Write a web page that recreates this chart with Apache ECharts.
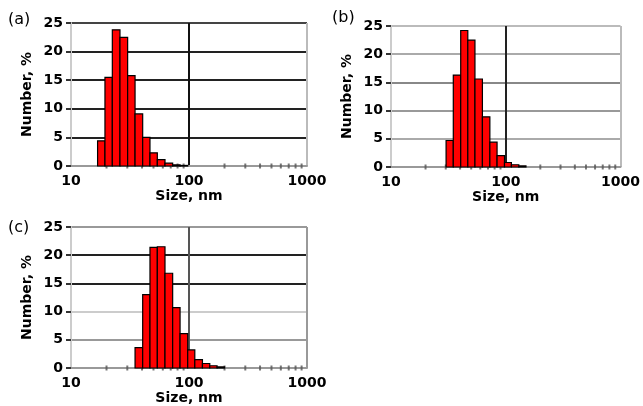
<!DOCTYPE html>
<html>
<head>
<meta charset="utf-8">
<script src="https://cdn.jsdelivr.net/npm/echarts@6/dist/echarts.min.js"></script>
<style>html,body{margin:0;padding:0;background:#fff}#c{width:643px;height:406px}</style>
</head>
<body>
<div id="c"></div>
<script>
// Shared log-spaced bin edges (nm)
const binEdges = [16.8, 19.4, 22.4, 26.0, 30.2, 34.9, 40.5, 46.7, 53.9, 62.6, 72.7, 84.0, 97.5, 112, 130, 150, 173, 200];
// Panel values (Number, %) and index of first bin
const firstBinA = 0;
const valuesA = [4.4, 15.5, 23.8, 22.5, 15.8, 9.1, 5.0, 2.3, 1.1, 0.5, 0.2, 0.1];
const firstBinB = 4;
const valuesB = [4.7, 16.3, 24.2, 22.5, 15.6, 8.9, 4.4, 2.0, 0.8, 0.4, 0.2];
const firstBinC = 5;
const valuesC = [3.6, 13.0, 21.4, 21.5, 16.8, 10.7, 6.1, 3.2, 1.5, 0.8, 0.4, 0.2];
const panelLabels = ['(a)', '(b)', '(c)'];
const xTickLabels = [10, 100, 1000];
const yTicks = [0, 5, 10, 15, 20, 25];
const minorTicks = [20, 30, 40, 50, 60, 70, 80, 90, 200, 300, 400, 500, 600, 700, 800, 900];

function bins(first, vals) {
  return vals.map((v, i) => [binEdges[first + i], binEdges[first + i + 1], v]);
}

const grids = [
  {left: 71, top: 23, width: 236, height: 143},
  {left: 391, top: 26, width: 236, height: 141},
  {left: 71, top: 227, width: 236, height: 142}
];
const xSplitColors = [
  ['#c8c8c8', '#111', '#bbb'],
  ['#c8c8c8', '#222', '#bbb'],
  ['#c8c8c8', '#555', '#999']
];
const ySplitColors = [
  ['#999', '#222', '#222', '#222', '#222', '#444'],
  ['#999', '#aaa', '#999', '#888', '#aaa', '#bbb'],
  ['#999', '#999', '#ccc', '#222', '#222', '#999']
];
const data = [bins(firstBinA, valuesA), bins(firstBinB, valuesB), bins(firstBinC, valuesC)];

const FONT = 'DejaVu Sans';
const xAxis = [], yAxis = [], series = [], graphic = [];
for (let k = 0; k < 3; k++) {
  xAxis.push({
    type: 'log', gridIndex: k, min: xTickLabels[0], max: xTickLabels[2], logBase: 10,
    axisLine: {show: true, lineStyle: {color: '#999', width: 2}},
    axisTick: {show: false},
    axisLabel: {color: '#000', fontFamily: FONT, fontWeight: 'bold', fontSize: 14, margin: 8,
      showMinLabel: true, showMaxLabel: true, formatter: v => String(v)},
    splitLine: {show: true, lineStyle: {color: xSplitColors[k], width: 2}},
    name: 'Size, nm', nameLocation: 'middle', nameGap: 23,
    nameTextStyle: {color: '#000', fontFamily: FONT, fontWeight: 'bold', fontSize: 14}
  });
  yAxis.push({
    type: 'value', gridIndex: k, min: yTicks[0], max: yTicks[yTicks.length - 1], interval: 5,
    axisLine: {show: true, lineStyle: {color: '#ccc', width: 2}},
    axisTick: {show: true, inside: false, length: 5, lineStyle: {color: '#333', width: 2}},
    axisLabel: {color: '#000', fontFamily: FONT, fontWeight: 'bold', fontSize: 14, margin: 8},
    splitLine: {show: true, lineStyle: {color: ySplitColors[k], width: 2}},
    name: 'Number, %', nameLocation: 'middle', nameGap: 37,
    nameTextStyle: {color: '#000', fontFamily: FONT, fontWeight: 'bold', fontSize: 14}
  });
  series.push({
    type: 'scatter', xAxisIndex: k, yAxisIndex: k, silent: true, z: 1,
    symbol: 'rect', symbolSize: [2, 5], itemStyle: {color: '#555'},
    data: minorTicks.map(t => [t, 0])
  });
  series.push({
    type: 'custom', xAxisIndex: k, yAxisIndex: k, silent: true, z: 3,
    data: data[k],
    renderItem: function (params, api) {
      const p0 = api.coord([api.value(0), api.value(2)]);
      const p1 = api.coord([api.value(1), 0]);
      return {
        type: 'rect',
        shape: {x: p0[0], y: p0[1], width: p1[0] - p0[0], height: p1[1] - p0[1]},
        style: {fill: '#ff0000', stroke: '#000', lineWidth: 1.2}
      };
    }
  });
}
const labelPos = [[8, 12], [332, 10], [8, 220]];
panelLabels.forEach((t, k) => graphic.push({
  type: 'text', left: labelPos[k][0], top: labelPos[k][1],
  style: {text: t, fontFamily: FONT, fontSize: 16, fill: '#000'}
}));

const chart = echarts.init(document.getElementById('c'), null, {renderer: 'canvas'});
chart.setOption({
  animation: false,
  backgroundColor: '#fff',
  grid: grids,
  xAxis: xAxis,
  yAxis: yAxis,
  series: series,
  graphic: graphic
});
</script>
</body>
</html>
